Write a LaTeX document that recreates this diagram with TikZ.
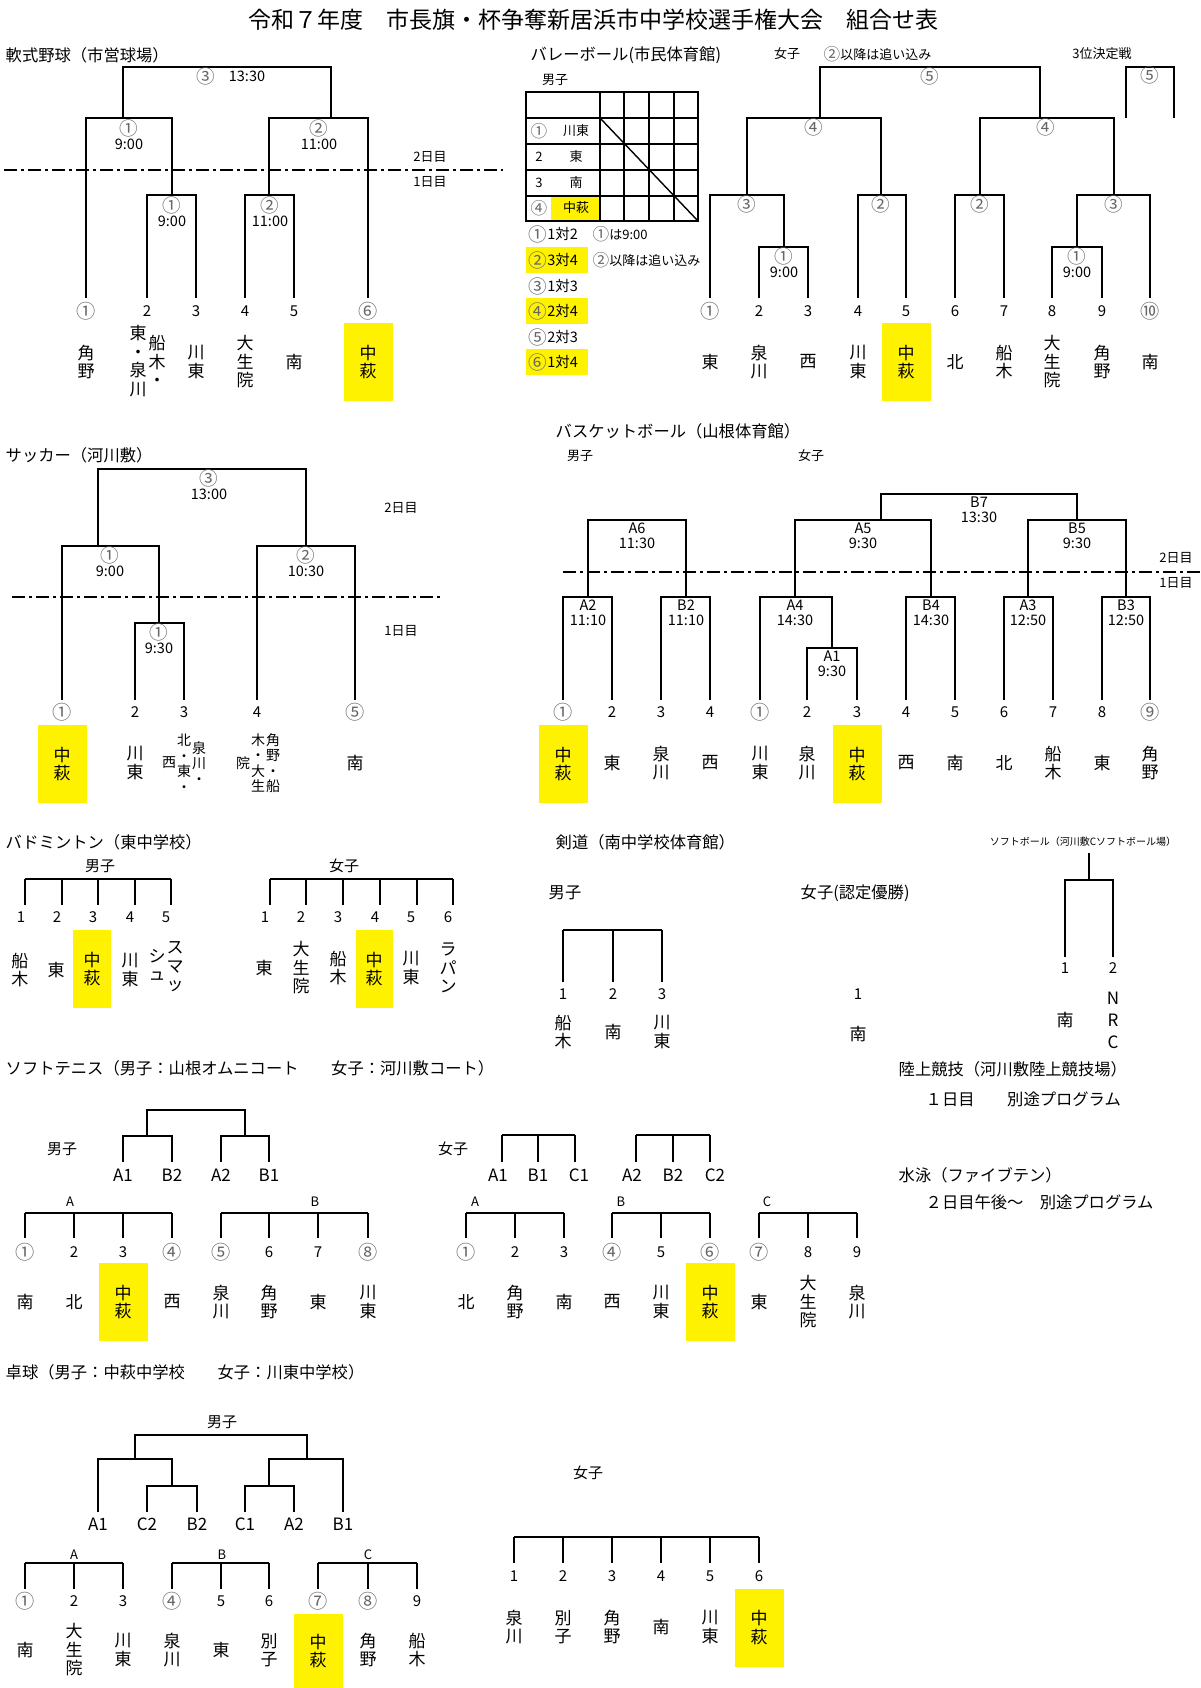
\documentclass[tikz,border=0pt]{standalone}
\usepackage{fontspec}
\setmainfont{Noto Sans CJK JP}
\def\match(#1,#2,#3,#4,#5){\draw (#1,#4) -- (#1,#3) -- (#2,#3) -- (#2,#5);}
\newcommand\grc[1]{\textcolor{black!60}{\raisebox{-0.08em}{\scalebox{1.28}{#1}}}}
\tikzset{
  ttl/.style={anchor=west, inner sep=0pt, font=\fontsize{16.3}{18}\selectfont},
  sml/.style={inner sep=0pt, font=\fontsize{13}{15}\selectfont},
  num/.style={inner sep=0pt, font=\fontsize{15}{17}\selectfont},
  tm/.style={inner sep=0pt, align=center, font=\fontsize{14.5}{15}\selectfont},
  team/.style={inner sep=0pt, align=center, font=\fontsize{17}{18.5}\selectfont},
  teams/.style={inner sep=0pt, align=center, font=\fontsize{14}{15.5}\selectfont},
  hl/.style={fill=yellow, minimum width=49pt, minimum height=78pt},
  win/.style={line width=2.8pt},
  daysep/.style={line width=1.4pt, dash pattern=on 13pt off 4pt on 3pt off 4pt},
}
\begin{document}
\begin{tikzpicture}[x=1pt, y=-1pt, line width=1.4pt]
%%%%% START %%%%%
\fill[white] (0,0) rectangle (1200,1688);
\node[inner sep=0pt, font=\fontsize{23}{25}\selectfont] (title) at (593,20) {令和７年度　市長旗・杯争奪新居浜市中学校選手権大会　組合せ表};

% 軟式野球
\node[ttl] (yakyu) at (5,55) {軟式野球（市営球場）};
\match(123,331,67,118,118)
\match(86,172,118,298,195)
\match(269,368,118,195,298)
\match(147,196,195,298,298)
\match(245,294,195,298,298)
\draw[win] (86,118) -- (86,298);
\draw[win] (245,195) -- (245,298);
\draw[daysep] (4,170) -- (503,170);
\node[tm] (yk3) at (206,76) {\grc{③}};
\node[tm] (yk3t) at (247,76) {13:30};
\node[tm] (yk1) at (129,134.5) {\grc{①}\\9:00};
\node[tm] (yk2) at (319,134.5) {\grc{②}\\11:00};
\node[tm] (yk1b) at (172,211.5) {\grc{①}\\9:00};
\node[tm] (yk2b) at (270,211.5) {\grc{②}\\11:00};
\node[sml] (ykd2) at (430,157) {2日目};
\node[sml] (ykd1) at (430,182) {1日目};
\foreach \x/\t [count=\i] in {86/\grc{①},147/2,196/3,245/4,294/5,368/\grc{⑥}}
  \node[num] (ykno\i) at (\x,311) {\t};
\foreach \x/\t [count=\i] in {86/角\\野,196/川\\東,245/大\\生\\院,294/南}
  \node[team] (ykname\i) at (\x,362) {\t};
\node[team] (ykfn) at (157,361) {船\\木\\・};
\node[team] (ykhi) at (138,361) {東\\・\\泉\\川};
\node[team,hl] (ykna) at (368,362) {中\\萩};

% バレーボール
\node[ttl] (vb) at (530,55) {バレーボール(市民体育館)};
\node[sml] (vbw) at (787,54) {女子};
\node[sml,anchor=west] (vbnote) at (823,54) {\grc{②}以降は追い込み};
\node[sml] (vb3) at (1102,54) {3位決定戦};
\node[sml] (vbm) at (555,80) {男子};
\fill[yellow] (551,196) rectangle (600,221);
\draw (526,92) rectangle (698,221);
\foreach \y in {118,144,170,196} \draw (526,\y) -- (698,\y);
\foreach \x in {600,624,649,674} \draw (\x,92) -- (\x,221);
\draw (600,118) -- (698,221);
\foreach \a/\b/\y [count=\i] in {\grc{①}/川東/131,2/東/157,3/南/183,\grc{④}/中萩/208}{
  \node[sml] (vbrn\i) at (539,\y) {\a};
  \node[sml] (vbrt\i) at (576,\y) {\b};
}
\foreach \y in {247,298,349} \fill[yellow] (526,\y) rectangle (588,\y+26);
\foreach \c/\t/\y [count=\i] in {①/1対2/234,②/3対4/260,③/1対3/286,④/2対4/311,⑤/2対3/337,⑥/1対4/362}
  \node[sml,anchor=west,font=\fontsize{14.5}{15}\selectfont] (vbo\i) at (528,\y) {\grc{\c}\t};
\node[sml,anchor=west] (vbo1b) at (592,234) {\grc{①}は9:00};
\node[sml,anchor=west] (vbo2b) at (592,260) {\grc{②}以降は追い込み};
\match(820,1040,67,118,118)
\match(1126,1174,67,118,118)
\match(747,881,118,195,195)
\match(980,1114,118,195,195)
\match(710,784,195,298,247)
\match(858,906,195,298,298)
\match(955,1004,195,298,298)
\match(1077,1150,195,247,298)
\match(759,808,247,298,298)
\match(1052,1102,247,298,298)
\draw[win] (710,195) -- (710,298);
\draw[win] (784,195) -- (784,247);
\draw[win] (955,195) -- (955,298);
\draw[win] (1102,247) -- (1102,298);
\foreach \x/\y/\t [count=\i] in {930/76/⑤,1150/75/⑤,814/127/④,1046/127/④,747/204/③,881/204/②,980/204/②,1114/204/③}
  \node[tm] (vbr\i) at (\x,\y) {\grc{\t}};
\node[tm] (vbq1) at (784,262.5) {\grc{①}\\9:00};
\node[tm] (vbq2) at (1077,262.5) {\grc{①}\\9:00};
\foreach \x/\t [count=\i] in {710/\grc{①},759/2,808/3,858/4,906/5,955/6,1004/7,1052/8,1102/9,1150/\grc{⑩}}
  \node[num] (vbno\i) at (\x,311) {\t};
\foreach \x/\t [count=\i] in {710/東,759/泉\\川,808/西,858/川\\東,955/北,1004/船\\木,1052/大\\生\\院,1102/角\\野,1150/南}
  \node[team] (vbname\i) at (\x,362) {\t};
\node[team,hl] (vbna) at (906,362) {中\\萩};

% サッカー
\node[ttl] (soc) at (5,455) {サッカー（河川敷）};
\match(98,306,469,546,546)
\match(62,159,546,700,623)
\match(257,355,546,700,700)
\match(135,184,623,700,700)
\draw[win] (159,546) -- (159,623);
\draw[daysep] (12,597) -- (441,597);
\node[tm] (sc3) at (209,484.5) {\grc{③}\\13:00};
\node[tm] (sc1) at (110,561.5) {\grc{①}\\9:00};
\node[tm] (sc2) at (306,561.5) {\grc{②}\\10:30};
\node[tm] (sc1b) at (159,638.5) {\grc{①}\\9:30};
\node[sml] (scd2) at (401,508) {2日目};
\node[sml] (scd1) at (401,631) {1日目};
\foreach \x/\t [count=\i] in {62/\grc{①},135/2,184/3,257/4,355/\grc{⑤}}
  \node[num] (scno\i) at (\x,712) {\t};
\node[team,hl] (scna) at (62,764) {中\\萩};
\node[team] (scka) at (135,763) {川\\東};
\node[teams] (scc1) at (184,763) {北\\・\\東\\・};
\node[teams] (scc2) at (199,763) {泉\\川\\・};
\node[teams] (scc3) at (169,763) {西};
\node[teams] (scd1a) at (258,763) {木\\・\\大\\生};
\node[teams] (scd2a) at (273,763) {角\\野\\・\\船};
\node[teams] (scd3a) at (243,763) {院};
\node[team] (scmi) at (355,763) {南};

% バスケットボール
\node[ttl] (bk) at (555,431) {バスケットボール（山根体育館）};
\node[sml] (bkm) at (580,456) {男子};
\node[sml] (bkw) at (811,456) {女子};
\match(881,1077,494,520,520)
\match(588,686,520,597,597)
\match(795,931,520,597,597)
\match(1028,1126,520,597,597)
\match(563,612,597,700,700)
\match(661,710,597,700,700)
\match(760,832,597,700,648)
\match(807,857,648,700,700)
\match(906,955,597,700,700)
\match(1004,1053,597,700,700)
\match(1102,1150,597,700,700)
\draw[win] (881,494) -- (1077,494);
\draw[win] (795,520) -- (795,597);
\draw[win] (1028,520) -- (1028,597);
\draw[win] (563,597) -- (563,700);
\draw[win] (710,597) -- (710,700);
\draw[win] (857,648) -- (857,700);
\draw[win] (955,597) -- (955,700);
\draw[win] (1102,597) -- (1102,700);
\draw[daysep] (563,572) -- (1200,572);
\node[sml] (bkd2) at (1176,558) {2日目};
\node[sml] (bkd1) at (1176,583) {1日目};
\foreach \x/\y/\t [count=\i] in {979/509.5/B7\\13:30,637/535.5/A6\\11:30,863/535.5/A5\\9:30,1077/535.5/B5\\9:30,588/612.5/A2\\11:10,686/612.5/B2\\11:10,795/612.5/A4\\14:30,931/612.5/B4\\14:30,1028/612.5/A3\\12:50,1126/612.5/B3\\12:50,832/663.5/A1\\9:30}
  \node[tm] (bkg\i) at (\x,\y) {\t};
\foreach \x/\t [count=\i] in {563/\grc{①},612/2,661/3,710/4,760/\grc{①},807/2,857/3,906/4,955/5,1004/6,1053/7,1102/8,1150/\grc{⑨}}
  \node[num] (bkno\i) at (\x,712) {\t};
\foreach \x/\t [count=\i] in {612/東,661/泉\\川,710/西,760/川\\東,807/泉\\川,906/西,955/南,1004/北,1053/船\\木,1102/東,1150/角\\野}
  \node[team] (bkname\i) at (\x,763) {\t};
\node[team,hl] (bkna1) at (563,764) {中\\萩};
\node[team,hl] (bkna2) at (857,764) {中\\萩};

% バドミントン
\node[ttl] (bad) at (5,842) {バドミントン（東中学校）};
\node[num] (badm) at (100,866) {男子};
\draw (25,879) -- (171,879);
\foreach \x in {25,62,98,135,171} \draw (\x,879) -- (\x,905);
\foreach \x/\t [count=\i] in {21/1,57/2,93/3,130/4,166/5}
  \node[num] (badmn\i) at (\x,917) {\t};
\foreach \x/\t [count=\i] in {20/船\\木,56/東,130/川\\東}
  \node[team] (badmt\i) at (\x,970) {\t};
\node[team,hl,minimum width=38pt] (badmna) at (92,969) {中\\萩};
\node[team] (badsm1) at (175,967) {ス\\マ\\ッ};
\node[team] (badsm2) at (157,965) {シ\\ュ};
\node[num] (badw) at (344,866) {女子};
\draw (270,879) -- (453,879);
\foreach \x in {270,306,343,380,417,453} \draw (\x,879) -- (\x,905);
\foreach \x/\t [count=\i] in {265/1,301/2,338/3,375/4,411/5,448/6}
  \node[num] (badwn\i) at (\x,917) {\t};
\foreach \x/\t [count=\i] in {264/東,301/大\\生\\院,338/船\\木,411/川\\東,448/ラ\\パ\\ン}
  \node[team] (badwt\i) at (\x,968) {\t};
\node[team,hl,minimum width=37pt] (badwna) at (374,969) {中\\萩};

% 剣道
\node[ttl] (ken) at (555,842) {剣道（南中学校体育館）};
\node[ttl] (kenm) at (548,893) {男子};
\node[ttl] (kenw) at (800,893) {女子(認定優勝)};
\draw (563,930) -- (662,930);
\draw[win] (563,930) -- (563,982);
\draw (613,930) -- (613,982);
\draw[win] (662,930) -- (662,982);
\foreach \x/\t [count=\i] in {563/1,613/2,662/3}
  \node[num] (kenn\i) at (\x,994) {\t};
\foreach \x/\t [count=\i] in {563/船\\木,613/南,662/川\\東}
  \node[team] (kent\i) at (\x,1032) {\t};
\node[num] (kenwn) at (858,994) {1};
\node[team] (kenwt) at (858,1034) {南};

% ソフトボール
\node[inner sep=0pt, font=\fontsize{10}{12}\selectfont] (sb) at (1083,842) {ソフトボール（河川敷Cソフトボール場）};
\draw (1089,853) -- (1089,880);
\match(1065,1113,880,957,957)
\draw[win] (1113,880) -- (1113,957);
\node[num] (sbn1) at (1065,968) {1};
\node[num] (sbn2) at (1113,968) {2};
\node[team] (sbt1) at (1065,1020) {南};
\node[team, font=\fontsize{17}{22}\selectfont] (sbt2) at (1113,1020) {N\\R\\C};

% 陸上競技・水泳
\node[ttl] (riku) at (898,1069) {陸上競技（河川敷陸上競技場）};
\node[ttl] (riku1) at (925,1099) {１日目　　別途プログラム};
\node[ttl] (sui) at (898,1175) {水泳（ファイブテン）};
\node[ttl] (sui1) at (925,1202) {２日目午後～　別途プログラム};

% ソフトテニス
\node[ttl] (st) at (5,1068) {ソフトテニス（男子：山根オムニコート　　女子：河川敷コート）};
\node[num] (stm) at (62,1149) {男子};
\match(147,245,1110,1136,1136)
\draw[win] (245,1110) -- (245,1136);
\match(123,172,1136,1162,1162)
\match(221,269,1136,1162,1162)
\foreach \x/\t [count=\i] in {123/A1,172/B2,221/A2,269/B1}
  \node[num,font=\fontsize{17}{19}\selectfont] (stml\i) at (\x,1175) {\t};
\node[sml] (stA) at (70,1202) {A};
\node[sml] (stB) at (315,1202) {B};
\draw (25,1213) -- (172,1213);
\draw (221,1213) -- (368,1213);
\foreach \x in {25,123,172,221,269,368} \draw (\x,1213) -- (\x,1238);
\draw[win] (74,1213) -- (74,1238);
\draw[win] (318,1213) -- (318,1238);
\foreach \x/\t [count=\i] in {25/\grc{①},74/2,123/3,172/\grc{④},221/\grc{⑤},269/6,318/7,368/\grc{⑧}}
  \node[num] (stmn\i) at (\x,1252) {\t};
\foreach \x/\t [count=\i] in {25/南,74/北,172/西,221/泉\\川,269/角\\野,318/東,368/川\\東}
  \node[team] (stmt\i) at (\x,1302) {\t};
\node[team,hl] (stmna) at (123,1302) {中\\萩};
\node[num] (stw) at (453,1149) {女子};
\draw (502,1135) -- (575,1135);
\draw (636,1135) -- (710,1135);
\foreach \x in {502,538,575,673} \draw (\x,1135) -- (\x,1162);
\draw[win] (636,1135) -- (636,1162);
\draw[win] (710,1135) -- (710,1162);
\foreach \x/\t [count=\i] in {498/A1,538/B1,579/C1,632/A2,673/B2,715/C2}
  \node[num,font=\fontsize{17}{19}\selectfont] (stwl\i) at (\x,1175) {\t};
\node[sml] (stwA) at (475,1202) {A};
\node[sml] (stwB) at (621,1202) {B};
\node[sml] (stwC) at (767,1202) {C};
\draw (466,1213) -- (564,1213);
\draw (612,1213) -- (710,1213);
\draw (759,1213) -- (857,1213);
\foreach \x in {466,515,612,661,759,808,857} \draw (\x,1213) -- (\x,1238);
\draw[win] (564,1213) -- (564,1238);
\draw[win] (710,1213) -- (710,1238);
\foreach \x/\t [count=\i] in {466/\grc{①},515/2,564/3,612/\grc{④},661/5,710/\grc{⑥},759/\grc{⑦},808/8,857/9}
  \node[num] (stwn\i) at (\x,1252) {\t};
\foreach \x/\t [count=\i] in {466/北,515/角\\野,564/南,612/西,661/川\\東,759/東,808/大\\生\\院,857/泉\\川}
  \node[team] (stwt\i) at (\x,1302) {\t};
\node[team,hl] (stwna) at (710,1302) {中\\萩};

% 卓球
\node[ttl] (tt) at (5,1372) {卓球（男子：中萩中学校　　女子：川東中学校）};
\node[num] (ttm) at (222,1422) {男子};
\match(135,307,1435,1459,1459)
\match(98,172,1459,1512,1486)
\match(269,343,1459,1486,1512)
\match(147,197,1486,1512,1512)
\match(245,294,1486,1512,1512)
\draw[win] (245,1486) -- (245,1512);
\foreach \x/\t [count=\i] in {98/A1,147/C2,197/B2,245/C1,294/A2,343/B1}
  \node[num,font=\fontsize{17}{19}\selectfont] (ttml\i) at (\x,1524) {\t};
\foreach \x/\t [count=\i] in {74/A,222/B,368/C}
  \node[sml] (ttg\i) at (\x,1555) {\t};
\draw (25,1563) -- (123,1563);
\draw (172,1563) -- (269,1563);
\draw (318,1563) -- (417,1563);
\foreach \x in {25,123,172,221,269,368,417} \draw (\x,1563) -- (\x,1589);
\draw[win] (74,1563) -- (74,1589);
\draw[win] (318,1563) -- (318,1589);
\foreach \x/\t [count=\i] in {25/\grc{①},74/2,123/3,172/\grc{④},221/5,269/6,318/\grc{⑦},368/\grc{⑧},417/9}
  \node[num] (ttmn\i) at (\x,1601) {\t};
\foreach \x/\t [count=\i] in {25/南,74/大\\生\\院,123/川\\東,172/泉\\川,221/東,269/別\\子,368/角\\野,417/船\\木}
  \node[team] (ttmt\i) at (\x,1650) {\t};
\node[team,hl,minimum height=74pt] (ttmna) at (318,1651) {中\\萩};
\node[num] (ttw) at (588,1473) {女子};
\draw (514,1537) -- (759,1537);
\foreach \x in {514,612,661,759} \draw (\x,1537) -- (\x,1563);
\draw[win] (563,1537) -- (563,1563);
\draw[win] (710,1537) -- (710,1563);
\foreach \x/\t [count=\i] in {514/1,563/2,612/3,661/4,710/5,759/6}
  \node[num] (ttwn\i) at (\x,1576) {\t};
\foreach \x/\t [count=\i] in {514/泉\\川,563/別\\子,612/角\\野,661/南,710/川\\東}
  \node[team] (ttwt\i) at (\x,1627) {\t};
\node[team,hl] (ttwna) at (759,1627.5) {中\\萩};
%%%%% END %%%%%
\end{tikzpicture}
\end{document}
